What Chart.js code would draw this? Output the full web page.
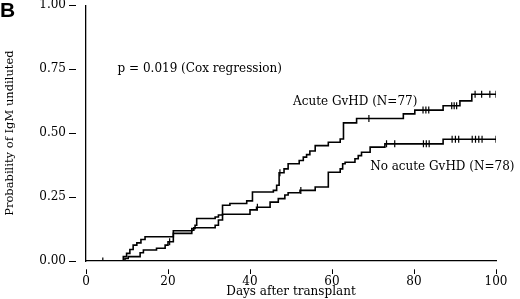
<!DOCTYPE html>
<html>
<head>
    <title>IgM undiluted</title>
    <script src="https://cdn.jsdelivr.net/npm/chart.js"></script>
    <style>
        body {
            margin: 0;
            padding: 0;
            background: #ffffff;
        }
        #chart-container {
            position: relative;
            width: 520px;
            height: 299px;
        }
    </style>
</head>
<body>
    <div id="chart-container">
        <canvas id="myChart"></canvas>
    </div>

    <script>
        // Kaplan-Meier steps (day, probability)
        const acuteDays = [0, 9.1, 9.9, 10.7, 11.5, 12.4, 13.4, 14.4, 21.3, 25.8, 26.6, 27.0, 31.5, 32.3, 33.3, 35.1, 39.2, 40.6, 45.7, 46.5, 47.1, 48.3, 49.3, 52.0, 53.0, 53.8, 54.6, 55.9, 59.1, 62.0, 62.8, 66.0, 77.4, 80.2, 87.1, 91.2, 94.1, 100];
        const acuteProb = [0, 0.017, 0.03, 0.045, 0.062, 0.071, 0.084, 0.095, 0.118, 0.127, 0.14, 0.166, 0.172, 0.18, 0.218, 0.225, 0.235, 0.27, 0.276, 0.296, 0.345, 0.36, 0.38, 0.393, 0.406, 0.416, 0.43, 0.451, 0.464, 0.477, 0.54, 0.557, 0.575, 0.59, 0.607, 0.626, 0.652, 0.652];
        const acuteCensored = [47.3, 69.0, 82.2, 82.9, 83.6, 89.2, 89.8, 90.4, 94.9, 96.5, 98.5, 100];

        const noAcuteDays = [0, 9.5, 10.3, 13.2, 14.0, 17.2, 19.3, 20.0, 21.3, 25.8, 26.3, 31.5, 32.3, 33.3, 40.0, 41.6, 44.9, 46.9, 48.5, 49.3, 52.2, 55.9, 59.1, 62.0, 62.6, 63.2, 65.6, 66.4, 67.2, 69.3, 72.9, 87.1, 100];
        const noAcuteProb = [0, 0.01, 0.017, 0.032, 0.043, 0.05, 0.062, 0.075, 0.108, 0.12, 0.13, 0.14, 0.16, 0.183, 0.2, 0.21, 0.23, 0.244, 0.258, 0.267, 0.276, 0.289, 0.347, 0.36, 0.38, 0.386, 0.40, 0.412, 0.425, 0.445, 0.458, 0.476, 0.476];
        const noAcuteCensored = [4.1, 20.4, 41.8, 52.4, 73.3, 75.3, 82.3, 83.0, 83.7, 89.3, 90.1, 90.9, 94.2, 95.0, 95.8, 96.6, 100];

        const xTicks = [0, 20, 40, 60, 80, 100];
        const yTicks = [0, 0.25, 0.5, 0.75, 1];

        const serif = "'DejaVu Serif', serif";
        const ink = '#000000';

        // value of a step curve at a given day
        function stepAt(days, probs, d) {
            let v = probs[0];
            for (let i = 0; i < days.length; i++) {
                if (days[i] <= d) v = probs[i];
            }
            return v;
        }

        const toPoints = (days, probs) => days.map((d, i) => ({ x: d, y: probs[i] }));
        const censorPoints = (marks, days, probs) => marks.map(d => ({ x: d, y: stepAt(days, probs, d) }));

        const stepStyle = {
            showLine: true,
            stepped: 'before',
            borderColor: ink,
            borderWidth: 1.6,
            pointRadius: 0,
            fill: false
        };
        const tickStyle = {
            showLine: false,
            pointStyle: 'line',
            rotation: 90,
            pointRadius: 3.5,
            borderColor: ink,
            borderWidth: 1.2
        };

        // text drawn inside the plot
        const notesPlugin = {
            id: 'notes',
            afterDatasetsDraw(chart, args, opts) {
                const { ctx, scales } = chart;
                ctx.save();
                ctx.fillStyle = ink;
                ctx.font = `12px ${serif}`;
                ctx.textAlign = 'left';
                ctx.textBaseline = 'middle';
                opts.notes.forEach(n => {
                    ctx.fillText(n.text, scales.x.getPixelForValue(n.x), scales.y.getPixelForValue(n.y));
                });
                ctx.font = "bold 21px 'Liberation Sans', sans-serif";
                ctx.textBaseline = 'alphabetic';
                ctx.fillText('B', 0, 17);
                ctx.restore();
            }
        };

        new Chart(document.getElementById('myChart'), {
            type: 'scatter',
            data: {
                datasets: [
                    { ...stepStyle, label: 'Acute GvHD (N=77)', data: toPoints(acuteDays, acuteProb) },
                    { ...stepStyle, label: 'No acute GvHD (N=78)', data: toPoints(noAcuteDays, noAcuteProb) },
                    { ...tickStyle, label: 'acute censored', data: censorPoints(acuteCensored, acuteDays, acuteProb) },
                    { ...tickStyle, label: 'no acute censored', data: censorPoints(noAcuteCensored, noAcuteDays, noAcuteProb) }
                ]
            },
            options: {
                responsive: true,
                maintainAspectRatio: false,
                animation: false,
                layout: { padding: { top: 4, right: 24, left: 0, bottom: 0 } },
                plugins: {
                    legend: { display: false },
                    tooltip: { enabled: false },
                    notes: {
                        notes: [
                            { text: 'p = 0.019 (Cox regression)', x: 7.7, y: 0.75 },
                            { text: 'Acute GvHD (N=77)', x: 50.5, y: 0.624 },
                            { text: 'No acute GvHD (N=78)', x: 69.3, y: 0.367 }
                        ]
                    }
                },
                scales: {
                    x: {
                        type: 'linear',
                        min: 0,
                        max: 100,
                        afterFit: s => { s.height = 38; },
                        afterBuildTicks: s => { s.ticks = xTicks.map(v => ({ value: v })); },
                        border: { display: true, color: ink, width: 1.3 },
                        grid: {
                            drawOnChartArea: false,
                            tickLength: 13,
                            tickColor: ink,
                            tickWidth: 1,
                            tickBorderDash: [0, 8, 5, 0]
                        },
                        ticks: {
                            color: ink,
                            padding: 1,
                            maxRotation: 0,
                            font: { family: serif, size: 12 }
                        },
                        title: {
                            display: true,
                            text: 'Days after transplant',
                            color: ink,
                            padding: { top: 0, bottom: 0 },
                            font: { family: serif, size: 12 }
                        }
                    },
                    y: {
                        min: 0,
                        max: 1,
                        afterFit: s => { s.width = 86; s.paddingTop = 0; s.paddingBottom = 0; },
                        afterBuildTicks: s => { s.ticks = yTicks.map(v => ({ value: v })); },
                        border: { display: true, color: ink, width: 1.3 },
                        grid: {
                            drawOnChartArea: false,
                            tickLength: 17,
                            tickColor: ink,
                            tickWidth: 1,
                            tickBorderDash: [7, 10]
                        },
                        ticks: {
                            color: ink,
                            padding: 3,
                            font: { family: serif, size: 12 },
                            callback: v => Number(v).toFixed(2)
                        },
                        title: {
                            display: true,
                            text: 'Probability of IgM undiluted',
                            color: ink,
                            padding: { top: 3, bottom: 0 },
                            font: { family: serif, size: 11.5 }
                        }
                    }
                }
            },
            plugins: [notesPlugin]
        });
    </script>
</body>
</html>
